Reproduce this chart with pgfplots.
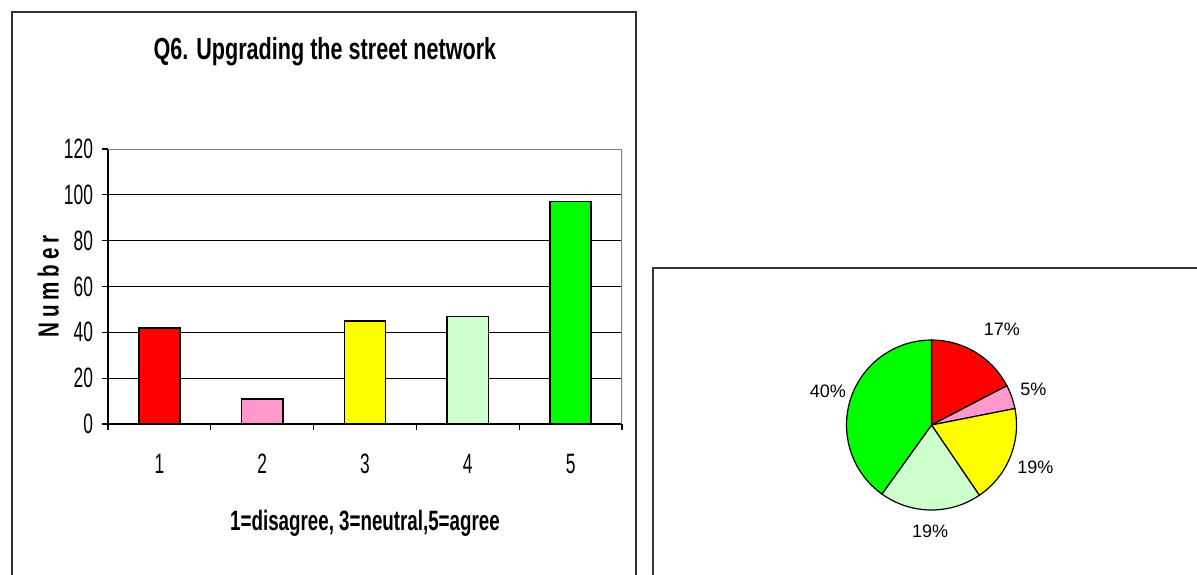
\documentclass[border=0pt]{standalone}
\usepackage{fontspec}
\setmainfont{Liberation Sans}
\newfontfamily\narrow[FakeStretch=0.71]{Liberation Sans}
\newfontfamily\narrowlab[FakeStretch=0.67]{Liberation Sans}
\newfontfamily\narrowtick[FakeStretch=0.62]{Liberation Sans}
\usepackage{pgfplots}
\pgfplotsset{compat=1.18}

\definecolor{cRed}{HTML}{FF0000}
\definecolor{cPink}{HTML}{FF99CC}
\definecolor{cYellow}{HTML}{FFFF00}
\definecolor{cLGreen}{HTML}{CCFFCC}
\definecolor{cGreen}{HTML}{00FF00}
\definecolor{frame}{HTML}{333333}

% answers 1..5
\def\vA{42}
\def\vB{11}
\def\vC{45}
\def\vD{47}
\def\vE{97}

\begin{document}
\begin{tikzpicture}
\useasboundingbox (0pt,0pt) rectangle (598.5pt,287pt);

% pie angles, clockwise from the top
\pgfmathsetmacro\tot{\vA+\vB+\vC+\vD+\vE}
\pgfmathsetmacro\aA{90}
\pgfmathsetmacro\aB{\aA-360*(\vA/\tot)}
\pgfmathsetmacro\aC{\aB-360*(\vB/\tot)}
\pgfmathsetmacro\aD{\aC-360*(\vC/\tot)}
\pgfmathsetmacro\aE{\aD-360*(\vD/\tot)}
\pgfmathsetmacro\aF{\aE-360*(\vE/\tot)}
\pgfmathtruncatemacro\pA{round(100*(\vA/\tot))}
\pgfmathtruncatemacro\pB{round(100*(\vB/\tot))}
\pgfmathtruncatemacro\pC{round(100*(\vC/\tot))}
\pgfmathtruncatemacro\pD{round(100*(\vD/\tot))}
\pgfmathtruncatemacro\pE{round(100*(\vE/\tot))}

% frames
\draw[line width=0.8pt, frame] (6pt,-3pt) -- (6pt,281pt) -- (318pt,281pt) -- (318pt,-3pt);
\draw[line width=0.8pt, frame] (326.5pt,-3pt) -- (326.5pt,153pt) -- (605pt,153pt);

\begin{axis}[
    at={(54pt,75pt)}, anchor=south west,
    scale only axis, width=257pt, height=137.5pt,
    xmin=0.5, xmax=5.5, ymin=0, ymax=120,
    ytick={0,20,...,120},
    xtick={0.5,1.5,...,5.5}, xticklabels={},
    extra x ticks={1,2,3,4,5},
    extra x tick labels={1,2,3,4,5},
    extra x tick style={major tick length=0pt},
    tick align=outside, major tick length=3pt,
    axis x line*=bottom, axis y line*=left,
    axis line style={black, line width=0.8pt},
    tick style={black, line width=0.6pt},
    ymajorgrids, grid style={black, line width=0.5pt},
    /pgf/number format/assume math mode=true,
    ticklabel style={font=\narrowtick\fontsize{14}{16}\selectfont},
    xticklabel style={anchor=base, yshift=-24.5pt},
    yticklabel style={anchor=east, xshift=-1pt},
    every axis title shift=0pt,
    title={Q6. Upgrading the street network},
    title style={at={(axis description cs:0.422,1.325)}, anchor=base,
      font=\narrow\bfseries\fontsize{15.2}{17}\selectfont},
    xlabel={1=disagree, 3=neutral,5=agree},
    xlabel style={at={(axis description cs:0.5,-0.3855)}, anchor=base,
      font=\narrowlab\bfseries\fontsize{14}{16}\selectfont},
    ylabel={N\,u\,m\,b\,e\,r},
    ylabel style={at={(axis description cs:-0.116,0.5)}, anchor=center,
      font=\narrow\bfseries\fontsize{14.5}{16}\selectfont},
    ybar, bar width=0.4,
    every axis plot/.append style={draw=black, line width=0.75pt, bar shift=0pt},
  ]
  \addplot[fill=cRed] coordinates {(1,\vA)};
  \addplot[fill=cPink] coordinates {(2,\vB)};
  \addplot[fill=cYellow] coordinates {(3,\vC)};
  \addplot[fill=cLGreen] coordinates {(4,\vD)};
  \addplot[fill=cGreen] coordinates {(5,\vE)};
  \draw[gray, line width=0.8pt] (rel axis cs:0,1) -- (rel axis cs:1,1) -- (rel axis cs:1,0);
\end{axis}

\begin{axis}[
    at={(465.75pt,74.5pt)}, anchor=center,
    scale only axis, width=85pt, height=85pt,
    xmin=-1, xmax=1, ymin=-1, ymax=1,
    hide axis, clip=false,
  ]
  \filldraw[fill=cRed, line width=0.6pt] (axis cs:0,0) -- (axis cs:{cos(\aA)},{sin(\aA)}) arc[start angle=\aA, end angle=\aB, radius=42.5pt] -- cycle;
  \filldraw[fill=cPink, line width=0.6pt] (axis cs:0,0) -- (axis cs:{cos(\aB)},{sin(\aB)}) arc[start angle=\aB, end angle=\aC, radius=42.5pt] -- cycle;
  \filldraw[fill=cYellow, line width=0.6pt] (axis cs:0,0) -- (axis cs:{cos(\aC)},{sin(\aC)}) arc[start angle=\aC, end angle=\aD, radius=42.5pt] -- cycle;
  \filldraw[fill=cLGreen, line width=0.6pt] (axis cs:0,0) -- (axis cs:{cos(\aD)},{sin(\aD)}) arc[start angle=\aD, end angle=\aE, radius=42.5pt] -- cycle;
  \filldraw[fill=cGreen, line width=0.6pt] (axis cs:0,0) -- (axis cs:{cos(\aE)},{sin(\aE)}) arc[start angle=\aE, end angle=\aF, radius=42.5pt] -- cycle;
  \node[font=\fontsize{9}{10}\selectfont] at (axis cs:{1.40*cos((\aA+\aB)/2-5)},{1.40*sin((\aA+\aB)/2-5)}) {\pA\%};
  \node[font=\fontsize{9}{10}\selectfont] at (axis cs:{1.27*cos((\aB+\aC)/2)},{1.27*sin((\aB+\aC)/2)}) {\pB\%};
  \node[font=\fontsize{9}{10}\selectfont] at (axis cs:{1.32*cos((\aC+\aD)/2)},{1.32*sin((\aC+\aD)/2)}) {\pC\%};
  \node[font=\fontsize{9}{10}\selectfont] at (axis cs:{1.25*cos((\aD+\aE)/2)},{1.25*sin((\aD+\aE)/2)}) {\pD\%};
  \node[font=\fontsize{9}{10}\selectfont] at (axis cs:{1.28*cos((\aE+\aF)/2)},{1.28*sin((\aE+\aF)/2)}) {\pE\%};
\end{axis}
\end{tikzpicture}
\end{document}
